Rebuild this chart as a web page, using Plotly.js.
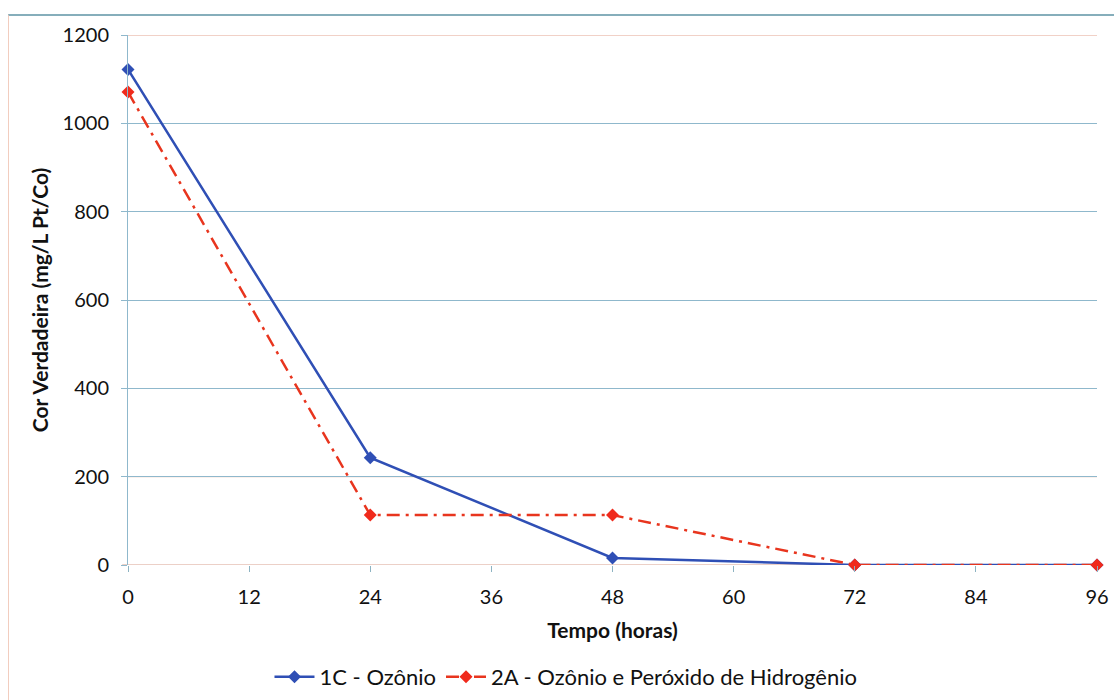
<!DOCTYPE html>
<html><head><meta charset="utf-8">
<script src="https://cdn.plot.ly/plotly-3.0.1.min.js"></script>
<style>
html,body{margin:0;padding:0;background:#fff;}
#frame{position:absolute;left:8px;top:14px;width:1106px;height:686px;border-top:2px solid #86aebb;border-left:1px solid #f2cdbf;box-sizing:border-box;}
#chart{position:absolute;left:0;top:0;width:1114px;height:700px;}
</style></head>
<body>
<div id="frame"></div>
<div id="chart"></div>
<script>
const hours = [0, 24, 48, 72, 96];
const ozonio1C = [1122, 243, 16, 0, 0];
const ozonioPeroxido2A = [1071, 113, 113, 0, 0];
const xTicks = [0, 12, 24, 36, 48, 60, 72, 84, 96];
const yTicks = [0, 200, 400, 600, 800, 1000, 1200];

const font = "Lato, 'Open Sans', sans-serif";
const traces = [
  {x: hours, y: ozonio1C, name: '1C - Ozônio', mode: 'lines+markers',
   line: {color: '#2f4fb5', width: 2.5}, marker: {symbol: 'diamond', size: 10, color: '#2f4fb5'}, cliponaxis: false},
  {x: hours, y: ozonioPeroxido2A, name: '2A - Ozônio e Peróxido de Hidrogênio', mode: 'lines+markers',
   line: {color: '#e8351e', width: 2.5, dash: '13px,6px,3px,6px'}, marker: {symbol: 'diamond', size: 10, color: '#f02a1c'}, cliponaxis: false}
];
const layout = {
  width: 1114, height: 700,
  paper_bgcolor: 'rgba(0,0,0,0)', plot_bgcolor: 'rgba(0,0,0,0)',
  margin: {l: 128, r: 17, t: 35, b: 135, autoexpand: false},
  font: {family: font, color: '#111', size: 18},
  showlegend: true,
  legend: {orientation: 'h', x: 0.452, xanchor: 'center', y: -0.211, yanchor: 'middle', font: {size: 22, family: font}, traceorder: 'normal', itemwidth: 40},
  xaxis: {range: [0, 96], tickvals: xTicks, ticktext: xTicks.map(String), showgrid: false, zeroline: false,
    showline: false, ticks: 'outside', ticklen: 6, tickcolor: '#8db3c2', tickfont: {size: 20}, ticklabelstandoff: 8,
    title: {text: '<b>Tempo (horas)</b>', font: {size: 21}, standoff: 16}},
  yaxis: {range: [0, 1200], tickvals: yTicks, ticktext: yTicks.map(String), showgrid: true, gridcolor: '#8fb8cc', gridwidth: 1,
    zeroline: false, showline: true, linecolor: '#8fb8cc', linewidth: 1, ticks: 'outside', ticklen: 6, tickcolor: '#8fb8cc',
    tickfont: {size: 20}, ticklabelstandoff: 8, title: {text: '<b>Cor Verdadeira (mg/L Pt/Co)</b>', font: {size: 21}, standoff: 8}},
  shapes: [
    {type: 'line', xref: 'paper', yref: 'y', x0: 0, x1: 1, y0: 1200, y1: 1200, line: {color: '#e3a48f', width: 1}, layer: 'below'},
    {type: 'line', xref: 'paper', yref: 'y', x0: 0, x1: 1, y0: 200, y1: 200, line: {color: '#e3a48f', width: 1}, layer: 'below'},
    {type: 'line', xref: 'paper', yref: 'y', x0: -0.006, x1: 1, y0: 0, y1: 0, line: {color: '#d9a08e', width: 1}, layer: 'below'}
  ]
};
Plotly.newPlot('chart', traces, layout, {displayModeBar: false, staticPlot: true});
</script>
</body></html>
